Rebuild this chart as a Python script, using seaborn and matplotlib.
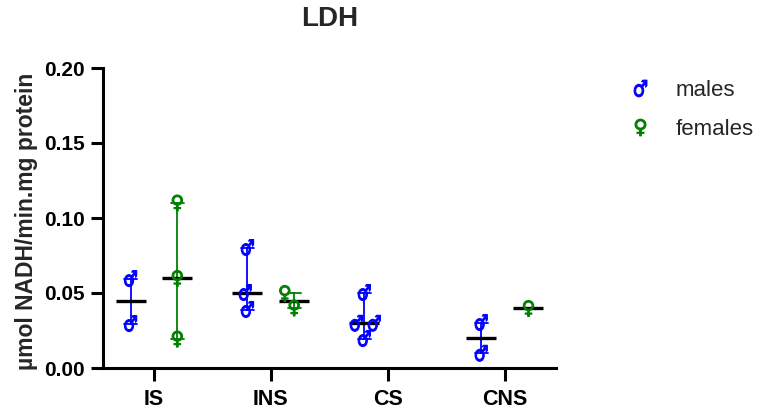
import numpy as np
import pandas as pd
import matplotlib
matplotlib.use("Agg")
import matplotlib.pyplot as plt
from matplotlib.lines import Line2D
from matplotlib.ticker import FormatStrFormatter
from matplotlib.textpath import TextPath
from matplotlib.font_manager import FontProperties
from matplotlib.transforms import Affine2D
import seaborn as sns

# LDH activity (µmol NADH/min.mg protein) per group and sex
groups = ["IS", "INS", "CS", "CNS"]
sexes = ["males", "females"]

is_males = [0.0596, 0.0296]
ins_males = [0.0803, 0.0503, 0.0390]
cs_males = [0.0503, 0.0298, 0.0298, 0.0196]
cns_males = [0.0303, 0.0098]

is_females = [0.1100, 0.0597, 0.0193]
ins_females = [0.0497, 0.0400]
cs_females = []
cns_females = [0.0400]

sex_colors = {"males": "#0000FF", "females": "#008000"}


def glyph_marker(ch, xscale=1.0):
    """Sex symbol as a filled path centred on the origin."""
    p = TextPath((0, 0), ch, size=10,
                 prop=FontProperties(family="DejaVu Sans", weight="bold"))
    ext = p.get_extents()
    cx, cy = (ext.x0 + ext.x1) / 2, (ext.y0 + ext.y1) / 2
    return p.transformed(Affine2D().translate(-cx, -cy).scale(xscale, 1.0))


sex_glyphs = {"males": glyph_marker("\u2642", 0.75),
              "females": glyph_marker("\u2640", 1.0)}

rows = []
for g, vals in zip(groups, [is_males, ins_males, cs_males, cns_males]):
    rows += [(g, "males", v) for v in vals]
for g, vals in zip(groups, [is_females, ins_females, cs_females, cns_females]):
    rows += [(g, "females", v) for v in vals]
df = pd.DataFrame(rows, columns=["group", "sex", "ldh"])

sns.set_style("ticks")
plt.rcParams["font.family"] = ["Liberation Sans", "DejaVu Sans"]

fig = plt.figure(figsize=(7.61, 4.12), dpi=100)
ax = fig.add_axes([103 / 761, 1 - 368 / 412, 453 / 761, 300 / 412])

# range bars (min to max) in the colour of each sex
sns.pointplot(data=df, x="group", y="ldh", hue="sex", order=groups,
              hue_order=sexes, palette=sex_colors, estimator="median",
              errorbar=("pi", 100), dodge=0.4, capsize=0.11,
              marker="", linestyle="none", err_kws={"linewidth": 1.3},
              legend=False, ax=ax)

# median line
sns.pointplot(data=df, x="group", y="ldh", hue="sex", order=groups,
              hue_order=sexes, palette={"males": "black", "females": "black"},
              estimator="median", errorbar=None, dodge=0.4,
              marker="_", markersize=21, markeredgewidth=2.4,
              linestyle="none", legend=False, ax=ax)

# individual animals drawn with sex symbols
for sex in sexes:
    sub = df[df["sex"] == sex]
    sns.swarmplot(data=sub, x="group", y="ldh", hue="sex", order=groups,
                  hue_order=sexes, palette=sex_colors, dodge=True,
                  marker=sex_glyphs[sex], size=11.5, linewidth=0.8,
                  edgecolor=sex_colors[sex], legend=False, ax=ax, zorder=5)

ax.set_xlim(-0.436, 3.44)
ax.set_ylim(0, 0.2)
ax.set_yticks([0, 0.05, 0.10, 0.15, 0.20])
ax.yaxis.set_major_formatter(FormatStrFormatter("%.2f"))
ax.set_xlabel("")
ax.set_ylabel("µmol NADH/min.mg protein", fontsize=16.5, fontweight="bold")
ax.yaxis.set_label_coords(-0.143, 0.49)

fig.text(330 / 761, 1 - 19 / 412, "LDH", fontsize=20, fontweight="bold",
         ha="center", va="center")

sns.despine(ax=ax)
for side in ["left", "bottom"]:
    ax.spines[side].set_linewidth(2.2)
    ax.spines[side].set_color("black")
ax.tick_params(axis="both", width=2.2, length=9, color="black",
               labelcolor="black")
ax.tick_params(axis="y", labelsize=15, pad=4)
ax.tick_params(axis="x", labelsize=15.5, pad=6)
for lab in ax.get_xticklabels() + ax.get_yticklabels():
    lab.set_fontweight("bold")

handles = [Line2D([], [], linestyle="none", marker=sex_glyphs[s],
                  markersize=12, color=sex_colors[s], markeredgewidth=0.8)
           for s in sexes]
fig.legend(handles, sexes, loc="upper left",
           bbox_to_anchor=(629 / 761, 1 - 80 / 412), frameon=False,
           fontsize=16, handlelength=1.0, handletextpad=1.1,
           labelspacing=0.8, borderpad=0, borderaxespad=0)

fig.savefig("out.png", dpi=100)
